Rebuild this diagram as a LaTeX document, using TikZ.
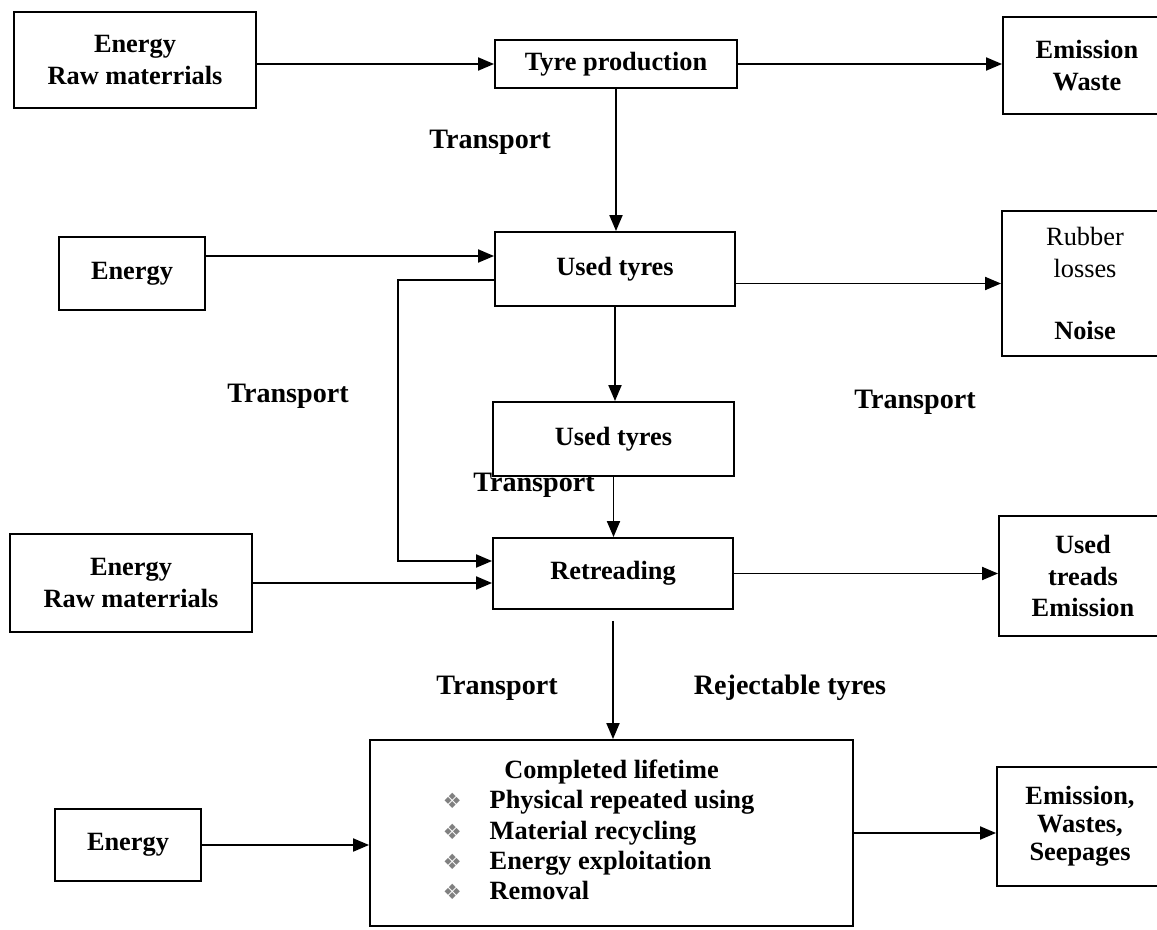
\documentclass[tikz,border=0pt]{standalone}
\usepackage{fontspec}
\setmainfont{Liberation Serif}
\newfontfamily\symfont{DejaVu Sans}
\usetikzlibrary{arrows.meta}
\tikzset{
  box/.style={draw, line width=1.1pt, inner sep=0pt, align=center, font=\fontsize{15}{18}\selectfont\bfseries},
  arr/.style={line width=1.1pt, -{Triangle[length=0.32cm,width=0.26cm]}},
  lbl/.style={inner sep=0pt, font=\fontsize{16}{19}\selectfont\bfseries}
}
\newcommand{\lifebullet}{{\symfont\color{gray}\fontsize{12}{12}\selectfont ❖}}

\begin{document}
\begin{tikzpicture}[x=0.02cm,y=-0.02cm]
  \clip (0,0) rectangle (1157,930);
  \node[box, minimum width=4.84cm, minimum height=1.92cm] (rawA) at (135,60) {Energy\\Raw materrials};
  \node[box, minimum width=4.84cm, minimum height=0.96cm] (prod) at (616,64) {Tyre production};
  \node[box, minimum width=3.36cm, minimum height=1.94cm] (emisA) at (1087,65.5) {Emission\\Waste};
  \node[box, minimum width=2.92cm, minimum height=1.46cm] (enB) at (132,273.5) {Energy};
  \node[box, minimum width=4.8cm, minimum height=1.48cm] (usedA) at (615,269) {Used tyres};
  \node[box, font=\fontsize{15}{18}\selectfont, minimum width=3.32cm, minimum height=2.9cm] (rubber) at (1085,283.5) {Rubber\\losses\\[17pt]\textbf{Noise}};
  \node[box, minimum width=4.82cm, minimum height=1.48cm] (usedB) at (613.5,439) {Used tyres};
  \node[box, minimum width=4.8cm, minimum height=1.42cm] (retr) at (613,573.5) {Retreading};
  \node[box, minimum width=4.84cm, minimum height=1.96cm] (rawB) at (131,583) {Energy\\Raw materrials};
  \node[box, minimum width=3.36cm, minimum height=2.4cm] (treads) at (1083,576) {Used\\treads\\Emission};
  \node[box, minimum width=9.66cm, minimum height=3.72cm] (life) at (611.5,833) {\renewcommand{\arraystretch}{0.95}%
    \begin{tabular}{@{}l@{\hspace{0.56cm}}l@{}}
      \multicolumn{2}{c}{\hspace{0.52cm}Completed lifetime}\\
      \lifebullet & Physical repeated using\\
      \lifebullet & Material recycling\\
      \lifebullet & Energy exploitation\\
      \lifebullet & Removal
    \end{tabular}\hspace{0.52cm}};
  \node[box, minimum width=2.92cm, minimum height=1.44cm] (enC) at (128,845) {Energy};
  \node[box, minimum width=3.32cm, minimum height=2.38cm] (emisC) at (1080,826.5) {Emission,\\[-2pt]Wastes,\\[-2pt]Seepages};

  \node[lbl] (tr1) at (490,142) {Transport};
  \node[lbl] (tr2) at (288,396) {Transport};
  \node[lbl] (tr3) at (915,402) {Transport};
  \node[lbl] (tr4) at (534,485) {Transport};
  \node[lbl] (tr5) at (497,688) {Transport};
  \node[lbl] (rej) at (790,688) {Rejectable tyres};

  \coordinate (enBout) at ([yshift=0.35cm]enB.east);
  \coordinate (fbTop) at (398,280);
  \coordinate (fbBot) at (398,561);

  \draw[arr] (rawA.east |- prod.west) -- (prod.west);
  \draw[arr] (prod.east) -- (prod.east -| emisA.west);
  \draw[arr] (prod.south) -- (prod.south |- usedA.north);
  \draw[arr] (enBout) -- (enBout -| usedA.west);
  \draw[arr] (usedA.east |- rubber.west) -- (rubber.west);
  \draw[arr] (usedA.south) -- (usedA.south |- usedB.north);
  \draw[arr] (usedB.south) -- (usedB.south |- retr.north);
  \draw[arr] (usedA.west |- fbTop) -- (fbTop) -- (fbBot) -- (retr.west |- fbBot);
  \draw[arr] (rawB.east) -- (rawB.east -| retr.west);
  \draw[arr] (retr.east) -- (retr.east -| treads.west);
  \draw[arr, shorten <=0.22cm] (retr.south) -- (retr.south |- life.north);
  \draw[arr] (enC.east) -- (enC.east -| life.west);
  \draw[arr] (life.east) -- (life.east -| emisC.west);
\end{tikzpicture}
\end{document}
